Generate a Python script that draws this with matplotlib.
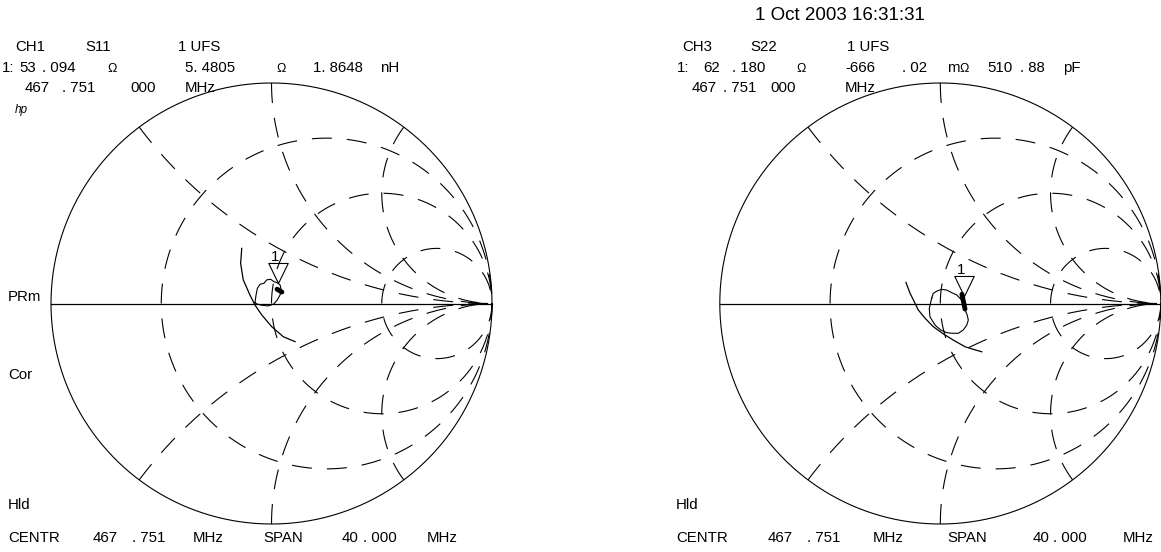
import numpy as np
import matplotlib.pyplot as plt
from matplotlib.markers import MarkerStyle

plt.rcParams['font.family'] = ['Liberation Sans', 'DejaVu Sans']
plt.rcParams['lines.scale_dashes'] = False

W, H = 1161, 552
FS = 10.8

# Smith chart grid (normalised impedance)
r_circles = [1 / 3, 1, 3]
x_arcs = [0.5, 1, 2]

# CH1 S11 trace, reflection coefficient (re, im)
s11_arc_re = [-0.135, -0.140, -0.128, -0.098, -0.075, -0.044, 0.001, 0.054, 0.107]
s11_arc_im = [0.250, 0.182, 0.107, 0.039, -0.007, -0.052, -0.105, -0.151, -0.173]
s11_loop_re = [-0.075, -0.070, -0.064, -0.052, -0.034, -0.022, -0.004, 0.011, 0.026,
               0.039, 0.044, 0.039, 0.026, 0.011, -0.015, -0.044, -0.067, -0.075]
s11_loop_im = [0.004, 0.039, 0.069, 0.087, 0.092, 0.107, 0.110, 0.099, 0.094,
               0.084, 0.061, 0.039, 0.016, -0.002, -0.011, -0.008, -0.002, 0.004]
s11_blob_re = [0.025, 0.047]
s11_blob_im = [0.065, 0.052]
s11_marker = (0.031, 0.076)

# CH3 S22 trace
s22_arc_re = [-0.156, -0.137, -0.122, -0.100, -0.069, -0.032, 0.014, 0.059, 0.112, 0.150, 0.188]
s22_arc_im = [0.096, 0.046, 0.016, -0.029, -0.067, -0.105, -0.138, -0.166, -0.196, -0.208, -0.219]
s22_loop_re = [-0.039, -0.032, -0.014, 0.006, 0.029, 0.052, 0.074, 0.089, 0.104, 0.112, 0.122,
               0.127, 0.120, 0.104, 0.082, 0.052, 0.029, 0.002, -0.024, -0.047, -0.050, -0.039]
s22_loop_im = [0.024, 0.046, 0.057, 0.064, 0.061, 0.049, 0.039, 0.024, 0.008, -0.029, -0.052,
               -0.075, -0.098, -0.120, -0.135, -0.135, -0.132, -0.120, -0.098, -0.060, -0.022, 0.024]
s22_blob_re = [0.098, 0.112]
s22_blob_im = [0.042, -0.025]
s22_marker = (0.107, 0.016)

DASH = (14.4, 10.8)
tri = MarkerStyle([(0, 0.166), (-0.405, 1), (0.405, 1), (0, 0.166)])


def smith(ax, cx, cy, R, px0, px1):
    ax.set_xlim((px0 - cx) / R, (px1 - cx) / R)
    ax.set_ylim((cy - H) / R, cy / R)
    ax.axis('off')
    t = np.linspace(0, 2 * np.pi, 721)
    ax.plot(np.cos(t), np.sin(t), color='k', lw=0.8)
    ax.plot([-1, 1], [0, 0], color='k', lw=0.9)
    for r in r_circles:
        c, rad = r / (1 + r), 1 / (1 + r)
        a = np.linspace(np.pi, 0, 400)
        ax.plot(c + rad * np.cos(a), rad * np.sin(a), color='k', lw=0.8, ls=(0, DASH))
        ax.plot(c + rad * np.cos(a), -rad * np.sin(a), color='k', lw=0.8, ls=(DASH[0], DASH))
    for x in x_arcs:
        p0 = ((x * x - 1) / (x * x + 1), 2 * x / (x * x + 1))
        a0 = np.arctan2(p0[1] - 1 / x, p0[0] - 1) % (2 * np.pi)
        a = np.linspace(a0, 1.5 * np.pi, 400)
        gx = 1 + np.cos(a) / x
        gy = 1 / x + np.sin(a) / x
        ax.plot(gx, gy, color='k', lw=0.8, ls=(0, DASH))
        ax.plot(gx, -gy, color='k', lw=0.8, ls=(0, DASH))


def trace(ax, arc_re, arc_im, loop_re, loop_im, blob_re, blob_im, marker):
    ax.plot(arc_re, arc_im, color='k', lw=0.9)
    ax.plot(loop_re, loop_im, color='k', lw=0.8)
    ax.plot(blob_re, blob_im, color='k', lw=3.5, solid_capstyle='round')
    ax.plot(marker[0], marker[1], marker=tri, ms=34.6, mfc='none', mec='k', mew=0.8)
    ax.annotate('1', marker, xytext=(-2, 21.6), textcoords='offset points',
                ha='center', va='center', fontsize=FS)


fig = plt.figure(figsize=(W / 100, H / 100), dpi=100)
ax1 = fig.add_axes([0, 0, 580 / W, 1])
smith(ax1, 271.5, 303.5, 220.5, 0, 580)
trace(ax1, s11_arc_re, s11_arc_im, s11_loop_re, s11_loop_im, s11_blob_re, s11_blob_im, s11_marker)

ax2 = fig.add_axes([580 / W, 0, 581 / W, 1])
smith(ax2, 940.3, 303.5, 220.5, 580, W)
trace(ax2, s22_arc_re, s22_arc_im, s22_loop_re, s22_loop_im, s22_blob_re, s22_blob_im, s22_marker)


def txt(px, py, s, size=FS, **kw):
    fig.text(px / W, 1 - py / H, s, fontsize=size, ha='left', va='center', **kw)


txt(755, 15, '1 Oct 2003 16:31:31', size=13.5)

# left header
for px, s in [(15, 'CH1'), (85, 'S11'), (178, '1 UFS')]:
    txt(px, 47, s)
for px, s in [(2, '1:'), (19, '53'), (42, '. 094'), (185, '5. 4805'), (313, '1. 8648'), (380, 'nH')]:
    txt(px, 68, s)
for px in [107, 276]:
    txt(px, 69, 'Ω', size=9)
for px, s in [(25, '467'), (62, '. 751'), (130, '000'), (185, 'MHz')]:
    txt(px, 88, s)
txt(15, 110, 'hp', size=8.5, style='italic')

# right header
for px, s in [(682, 'CH3'), (750, 'S22'), (847, '1 UFS')]:
    txt(px, 47, s)
for px, s in [(677, '1:'), (703, '62'), (732, '. 180'), (845, '-666'), (902, '. 02'),
              (987, '510'), (1020, '. 88'), (1063, 'pF')]:
    txt(px, 68, s)
txt(796, 69, 'Ω', size=9)
txt(947, 68, 'm')
txt(959, 69, 'Ω', size=9)
for px, s in [(692, '467'), (723, '. 751'), (770, '000'), (845, 'MHz')]:
    txt(px, 88, s)

# side labels
txt(8, 297, 'PRm')
txt(8, 375, 'Cor')
txt(8, 505, 'Hld')
txt(676, 505, 'Hld')

# footers
for px, s in [(8, 'CENTR'), (93, '467'), (132, '. 751'), (193, 'MHz'), (263, 'SPAN'),
              (342, '40'), (363, '. 000'), (427, 'MHz')]:
    txt(px, 538, s)
for px, s in [(676, 'CENTR'), (768, '467'), (807, '. 751'), (873, 'MHz'), (947, 'SPAN'),
              (1033, '40'), (1053, '. 000'), (1123, 'MHz')]:
    txt(px, 538, s)

fig.savefig('out.png', dpi=100)
